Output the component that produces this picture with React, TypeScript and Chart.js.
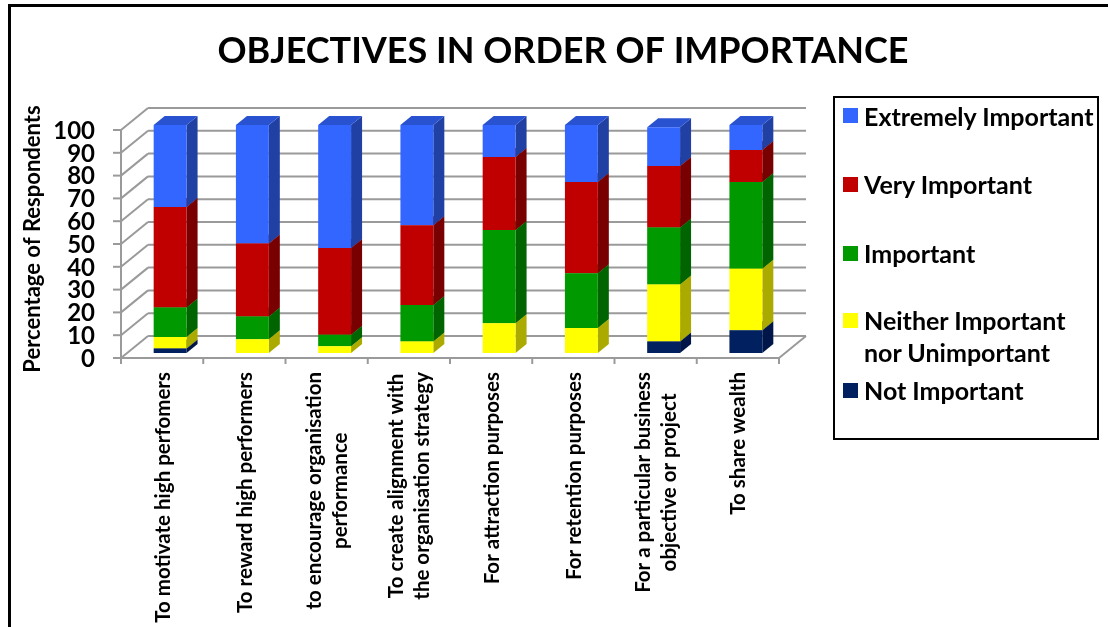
import React, { useEffect, useRef } from "react";
import { Chart, registerables } from "chart.js";

Chart.register(...registerables);

// ---- data ----
const categories: string[][] = [
  ["To motivate high perfomers"],
  ["To reward high performers"],
  ["to encourage organisation", "performance"],
  ["To create alignment with", "the organisation strategy"],
  ["For attraction purposes"],
  ["For retention purposes"],
  ["For a particular business", "objective or project"],
  ["To share wealth"],
];

const seriesNames = [
  "Not Important",
  "Neither Important\nnor Unimportant",
  "Important",
  "Very Important",
  "Extremely Important",
];

const notImportant = [2, 0, 0, 0, 0, 0, 5, 10];
const neitherImportant = [5, 6, 3, 5, 13, 11, 25, 27];
const important = [13, 10, 5, 16, 41, 24, 25, 38];
const veryImportant = [44, 32, 38, 35, 32, 40, 27, 14];
const extremelyImportant = [36, 52, 54, 44, 14, 25, 17, 11];

const seriesValues = [notImportant, neitherImportant, important, veryImportant, extremelyImportant];

const yTicks = [0, 10, 20, 30, 40, 50, 60, 70, 80, 90, 100];

const chartTitle = "OBJECTIVES IN ORDER OF IMPORTANCE";
const yAxisTitle = "Percentage of Respondents";

// ---- styles ----
const frontColors = ["#002060", "#FFFF00", "#009900", "#C00000", "#3366FF"];
const sideColors = ["#001648", "#AAAA00", "#006400", "#780000", "#2040A4"];
const topColors = ["#001a55", "#D8D800", "#007A00", "#9A0000", "#2852D0"];

const FONT = "Lato, 'Open Sans', sans-serif";

const threeD = {
  id: "threeD",
  beforeDatasetsDraw(chart: any) {
    const { ctx, chartArea, scales } = chart;
    const y = scales.y;
    const fx = -8, fy = 5, dx = 27, dy = 22;
    const L = chartArea.left + fx;
    const R = chartArea.right + fx;
    const line = (a: number, b: number, c: number, d: number) => {
      ctx.beginPath();
      ctx.moveTo(a, b);
      ctx.lineTo(c, d);
      ctx.stroke();
    };
    ctx.save();
    ctx.strokeStyle = "#9a9a9a";
    ctx.lineWidth = 2;
    y.ticks.forEach((t: any) => {
      const py = y.getPixelForValue(t.value) + fy;
      line(L, py, L + dx, py - dy);
      line(L + dx, py - dy, R + dx, py - dy);
      line(L - 8, py, L, py);
    });
    const p0 = y.getPixelForValue(0) + fy;
    const p100 = y.getPixelForValue(100) + fy;
    line(L, p0, L, p100);
    line(L, p0, R, p0);
    line(R, p0, R + dx, p0 - dy);
    const n = categories.length;
    const band = (chartArea.right - chartArea.left) / n;
    for (let i = 0; i <= n; i++) {
      const bx = chartArea.left + i * band + fx;
      line(bx, p0, bx, p0 + 6);
    }
    // 3D faces of bars
    const bdx = 11, bdy = 9;
    for (let i = 0; i < n; i++) {
      for (let d = 0; d < chart.data.datasets.length; d++) {
        const v = chart.data.datasets[d].data[i];
        if (!v) continue;
        const el: any = chart.getDatasetMeta(d).data[i];
        const { x: bxc, y: top, base, width } = el.getProps(["x", "y", "base", "width"], true);
        const l = bxc - width / 2;
        const r = bxc + width / 2;
        ctx.fillStyle = sideColors[d];
        ctx.beginPath();
        ctx.moveTo(r, top);
        ctx.lineTo(r + bdx, top - bdy);
        ctx.lineTo(r + bdx, base - bdy);
        ctx.lineTo(r, base);
        ctx.closePath();
        ctx.fill();
        ctx.fillStyle = topColors[d];
        ctx.beginPath();
        ctx.moveTo(l, top);
        ctx.lineTo(l + bdx, top - bdy);
        ctx.lineTo(r + bdx, top - bdy);
        ctx.lineTo(r, top);
        ctx.closePath();
        ctx.fill();
      }
    }
    ctx.restore();
  },
  afterDraw(chart: any) {
    const { ctx, scales } = chart;
    const x = scales.x;
    const topY = 372;
    const lh = 26;
    ctx.save();
    ctx.fillStyle = "#000";
    ctx.font = `bold 20.5px ${FONT}`;
    ctx.textAlign = "center";
    ctx.textBaseline = "middle";
    categories.forEach((lines, i) => {
      const cx = x.getPixelForValue(i) - 7;
      const w = Math.max(...lines.map((s) => ctx.measureText(s).width));
      ctx.save();
      ctx.translate(cx, topY);
      ctx.rotate(-Math.PI / 2);
      lines.forEach((s, k) => {
        ctx.fillText(s, -w / 2, (k - (lines.length - 1) / 2) * lh);
      });
      ctx.restore();
    });
    ctx.restore();
  },
};

export default function App() {
  const ref = useRef<HTMLCanvasElement>(null);
  useEffect(() => {
    if (!ref.current) return;
    const chart = new Chart(ref.current, {
      type: "bar",
      data: {
        labels: categories.map((c) => c.join(" ")),
        datasets: seriesValues.map((vals, d) => ({
          label: seriesNames[d].replace("\n", " "),
          data: vals,
          backgroundColor: frontColors[d],
          borderWidth: 0,
          categoryPercentage: 1,
          barPercentage: 0.4,
        })),
      },
      options: {
        animation: false,
        responsive: false,
        maintainAspectRatio: false,
        layout: { padding: { left: 18, right: 0, top: 0, bottom: 0 } },
        plugins: {
          legend: { display: false },
          tooltip: { enabled: false },
          title: {
            display: true,
            text: chartTitle,
            color: "#000",
            font: { family: FONT, size: 36, weight: "bold", lineHeight: 1.2 },
            padding: { top: 30, bottom: 51.8 },
          },
        },
        scales: {
          x: {
            stacked: true,
            grid: { display: false, drawTicks: false },
            border: { display: false },
            ticks: { display: false },
            afterFit: (s: any) => {
              s.height = 274;
            },
          },
          y: {
            stacked: true,
            min: 0,
            max: 100,
            afterBuildTicks: (s: any) => {
              s.ticks = yTicks.map((v) => ({ value: v }));
            },
            grid: { display: false, drawTicks: false },
            border: { display: false },
            ticks: {
              color: "#000",
              autoSkip: false,
              font: { family: FONT, size: 24, weight: "bold", lineHeight: 1 },
              padding: 34,
              labelOffset: 6,
            },
            title: {
              display: true,
              text: yAxisTitle,
              color: "#000",
              font: { family: FONT, size: 22, weight: "bold", lineHeight: 1.2 },
              padding: { top: 2, bottom: 0 },
            },
            afterFit: (s: any) => {
              s.width = 111;
            },
          },
          yr: {
            position: "right",
            display: true,
            grid: { display: false, drawTicks: false },
            border: { display: false },
            ticks: { display: false },
            afterFit: (s: any) => {
              s.width = 321;
            },
          },
        },
      },
      plugins: [threeD],
    });
    return () => chart.destroy();
  }, []);

  const legendOrder = [4, 3, 2, 1, 0];
  const legendCenters = [115.5, 184, 253, 320, 390];

  return (
    <div
      style={{
        position: "absolute",
        left: 0,
        top: 0,
        width: 1108,
        height: 627,
        overflow: "hidden",
        background: "#fff",
        fontFamily: FONT,
      }}
    >
      <canvas ref={ref} width={1108} height={627} style={{ position: "absolute", left: 0, top: 0 }} />
      <div
        style={{
          position: "absolute",
          left: 8,
          top: 4,
          width: 1200,
          height: 700,
          borderTop: "3px solid #000",
          borderLeft: "3px solid #000",
          pointerEvents: "none",
        }}
      />
      <div
        style={{
          position: "absolute",
          left: 833,
          top: 96,
          width: 266,
          height: 344,
          border: "2.5px solid #000",
          boxSizing: "border-box",
        }}
      />
      {legendOrder.map((d, k) => (
        <div key={d} style={{ position: "absolute", left: 843, top: legendCenters[k] - 16 }}>
          <div
            style={{
              position: "absolute",
              left: 0,
              top: 8.5,
              width: 15,
              height: 15,
              background: frontColors[d],
            }}
          />
          <div
            style={{
              position: "absolute",
              left: 21,
              top: 0,
              whiteSpace: "pre",
              fontWeight: "bold",
              fontSize: 25,
              lineHeight: "32px",
              color: "#000",
            }}
          >
            {seriesNames[d]}
          </div>
        </div>
      ))}
    </div>
  );
}
